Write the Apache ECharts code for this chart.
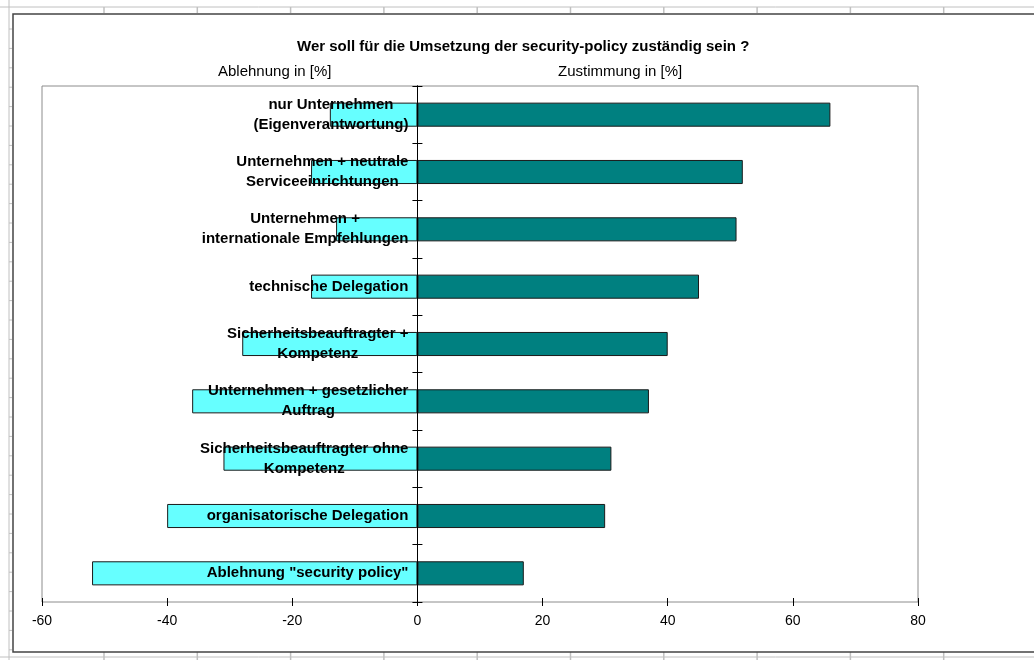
<!DOCTYPE html>
<html>
<head>
<meta charset="utf-8">
<title>security-policy</title>
<script src="https://cdn.jsdelivr.net/npm/echarts@6/dist/echarts.min.js"></script>
<style>
  html, body { margin: 0; padding: 0; background: #fff; }
  #chart { width: 1034px; height: 660px; }
</style>
</head>
<body>
<div id="chart"></div>
<script>
// Kategorien von oben nach unten
const categories = [
  "nur Unternehmen\n(Eigenverantwortung)",
  "Unternehmen + neutrale\nServiceeinrichtungen",
  "Unternehmen +\ninternationale Empfehlungen",
  "technische Delegation",
  "Sicherheitsbeauftragter +\nKompetenz",
  "Unternehmen + gesetzlicher\nAuftrag",
  "Sicherheitsbeauftragter ohne\nKompetenz",
  "organisatorische Delegation",
  "Ablehnung \"security policy\""
];
const ablehnung = [-14, -17, -13, -17, -28, -36, -31, -40, -52];
const zustimmung = [66, 52, 51, 45, 40, 37, 31, 30, 17];
const xTicks = [-60, -40, -20, 0, 20, 40, 60, 80];

const font = "'Liberation Sans', Arial, sans-serif";

// Excel-Zellraster im Hintergrund (nur Dekoration)
function sheetGrid() {
  let els = [];
  els.push({ type: "line", shape: { x1: 0, y1: 7, x2: 1034, y2: 7 }, style: { stroke: "#c0c0c0", lineWidth: 1 } });
  els.push({ type: "line", shape: { x1: 0, y1: 657, x2: 1034, y2: 657 }, style: { stroke: "#c0c0c0", lineWidth: 1 } });
  els.push({ type: "line", shape: { x1: 9, y1: 0, x2: 9, y2: 660 }, style: { stroke: "#c0c0c0", lineWidth: 1 } });
  for (let x = 104; x < 1034; x += 93.3) {
    els.push({ type: "line", shape: { x1: x, y1: 7, x2: x, y2: 13 }, style: { stroke: "#c0c0c0", lineWidth: 1.5 } });
    els.push({ type: "line", shape: { x1: x, y1: 652, x2: x, y2: 660 }, style: { stroke: "#c0c0c0", lineWidth: 1.5 } });
  }
  for (let y = 29; y < 660; y += 19.4) {
    els.push({ type: "line", shape: { x1: 9, y1: y, x2: 12, y2: y }, style: { stroke: "#c0c0c0", lineWidth: 1 } });
  }
  els.push({ type: "rect", shape: { x: 13, y: 14, width: 1040, height: 638 }, style: { fill: null, stroke: "#444", lineWidth: 1.5 } });
  return els;
}

const xRange = { type: "value", min: xTicks[0], max: xTicks[xTicks.length - 1], interval: 20, splitLine: { show: false } };

const chart = echarts.init(document.getElementById("chart"));
chart.setOption({
  animation: false,
  backgroundColor: "#fff",
  textStyle: { fontFamily: font },
  title: [
    {
      text: "Wer soll für die Umsetzung der security-policy zuständig sein ?",
      left: 297, top: 39, padding: 0,
      textStyle: { fontSize: 15, fontWeight: "bold", color: "#000", fontFamily: font }
    },
    {
      text: "Ablehnung in [%]",
      left: 218, top: 64, padding: 0,
      textStyle: { fontSize: 15, fontWeight: "normal", color: "#000", fontFamily: font }
    },
    {
      text: "Zustimmung in [%]",
      left: 558, top: 64, padding: 0,
      textStyle: { fontSize: 15, fontWeight: "normal", color: "#000", fontFamily: font }
    }
  ],
  graphic: sheetGrid(),
  grid: {
    left: 42, right: 116, top: 86, bottom: 58,
    containLabel: false,
    outerBoundsMode: "none",
    show: true, borderColor: "#8c8c8c", borderWidth: 1
  },
  xAxis: [
    Object.assign({}, xRange, {
      position: "bottom",
      axisLine: { onZero: false, lineStyle: { color: "#000", width: 1 } },
      axisTick: { show: true, length: 4, lineStyle: { color: "#000" } },
      axisLabel: { color: "#000", fontSize: 14, margin: 12, fontFamily: font }
    }),
    // zweite Achse nur fuer die nach innen zeigenden Teilstriche (Kreuzmarken)
    Object.assign({}, xRange, {
      position: "bottom",
      axisLine: { onZero: false, lineStyle: { color: "#000", width: 1 } },
      axisTick: { show: true, inside: true, length: 4, lineStyle: { color: "#000" } },
      axisLabel: { show: false }
    })
  ],
  yAxis: [
    {
      type: "category",
      inverse: true,
      data: categories,
      z: 10,
      axisLine: { onZero: true, lineStyle: { color: "#000", width: 1 } },
      axisTick: { show: true, length: 5, lineStyle: { color: "#000" } },
      axisLabel: { show: false }
    },
    {
      type: "category",
      inverse: true,
      data: categories,
      position: "left",
      z: 10,
      axisLine: { onZero: true, lineStyle: { color: "#000", width: 1 } },
      axisTick: { show: true, inside: true, length: 5, lineStyle: { color: "#000" } },
      axisLabel: { show: false }
    }
  ],
  series: [
    {
      name: "Ablehnung",
      type: "bar",
      stack: "a",
      data: ablehnung,
      barWidth: "42%",
      itemStyle: { color: "#66ffff", borderColor: "#1a1a1a", borderWidth: 1 }
    },
    {
      name: "Zustimmung",
      type: "bar",
      stack: "a",
      data: zustimmung,
      barWidth: "42%",
      itemStyle: { color: "#008080", borderColor: "#1a1a1a", borderWidth: 1 },
      // Kategorienamen links neben der Nulllinie, wie im Original ueber den Balken
      label: {
        show: true,
        position: "left",
        distance: 9,
        formatter: function (p) {
          return p.name.split("\n").map(function (l) { return "{c|" + l + "}"; }).join("\n");
        },
        rich: {
          c: { align: "center", fontSize: 15, fontWeight: "bold", color: "#000", lineHeight: 20, fontFamily: font }
        }
      }
    }
  ]
});
</script>
</body>
</html>
